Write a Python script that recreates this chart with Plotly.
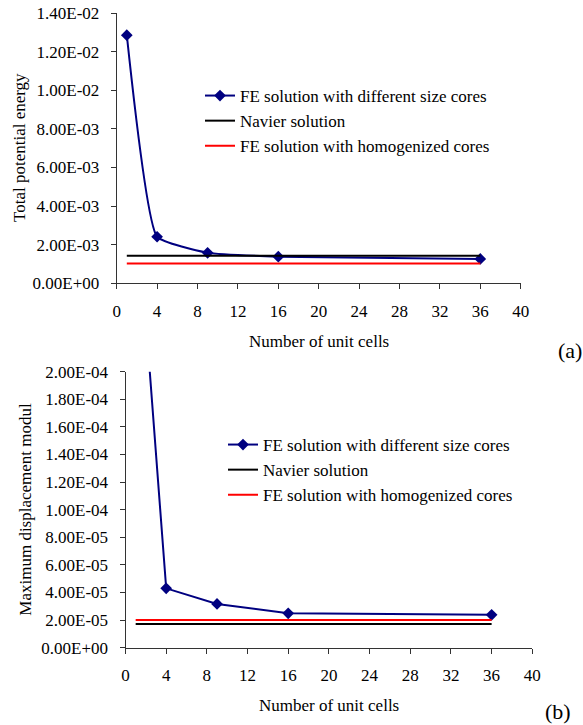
import plotly.graph_objects as go

# ---------------- data ----------------
cells = [1, 4, 9, 16, 36]
line_x = [1, 36]

energy_fe = [1.285e-2, 2.41e-3, 1.58e-3, 1.38e-3, 1.26e-3]
energy_navier = [1.43e-3, 1.43e-3]
energy_homog = [1.02e-3, 1.02e-3]

disp_fe = [3.35e-4, 4.3e-5, 3.17e-5, 2.49e-5, 2.38e-5]
disp_navier = [1.72e-5, 1.72e-5]
disp_homog = [2.0e-5, 2.0e-5]

x_ticks = [0, 4, 8, 12, 16, 20, 24, 28, 32, 36, 40]
energy_tickvals = [0, 0.002, 0.004, 0.006, 0.008, 0.010, 0.012, 0.014]
energy_ticktext = ["0.00E+00", "2.00E-03", "4.00E-03", "6.00E-03", "8.00E-03",
                   "1.00E-02", "1.20E-02", "1.40E-02"]
disp_tickvals = [0, 2e-5, 4e-5, 6e-5, 8e-5, 1e-4, 1.2e-4, 1.4e-4, 1.6e-4, 1.8e-4, 2e-4]
disp_ticktext = ["0.00E+00", "2.00E-05", "4.00E-05", "6.00E-05", "8.00E-05",
                 "1.00E-04", "1.20E-04", "1.40E-04", "1.60E-04", "1.80E-04", "2.00E-04"]

names = ["FE solution with different size cores", "Navier solution",
         "FE solution with homogenized cores"]

# ---------------- style ----------------
FONT = "Liberation Serif"
FS = 17
NAVY = "#000080"
AXC = "#333333"
W, H = 583, 725

def px_x(p):
    return p / W

def px_y(p):
    return 1 - p / H

fig = go.Figure()

# top chart (a)
fig.add_trace(go.Scatter(x=cells, y=energy_fe, mode="lines+markers", name=names[0],
                         line=dict(color=NAVY, width=2, shape="spline", smoothing=0.4),
                         marker=dict(symbol="diamond", size=9, color=NAVY),
                         xaxis="x", yaxis="y", legend="legend"))
fig.add_trace(go.Scatter(x=line_x, y=energy_navier, mode="lines", name=names[1],
                         line=dict(color="black", width=2), xaxis="x", yaxis="y", legend="legend"))
fig.add_trace(go.Scatter(x=line_x, y=energy_homog, mode="lines", name=names[2],
                         line=dict(color="red", width=2), xaxis="x", yaxis="y", legend="legend"))

# bottom chart (b)
fig.add_trace(go.Scatter(x=cells, y=disp_fe, mode="lines+markers", name=names[0],
                         line=dict(color=NAVY, width=2),
                         marker=dict(symbol="diamond", size=9, color=NAVY),
                         xaxis="x2", yaxis="y2", legend="legend2"))
fig.add_trace(go.Scatter(x=line_x, y=disp_navier, mode="lines", name=names[1],
                         line=dict(color="black", width=2), xaxis="x2", yaxis="y2", legend="legend2"))
fig.add_trace(go.Scatter(x=line_x, y=disp_homog, mode="lines", name=names[2],
                         line=dict(color="red", width=2), xaxis="x2", yaxis="y2", legend="legend2"))

axis_common = dict(showgrid=False, zeroline=False, showline=True, linecolor=AXC, linewidth=1,
                   ticks="outside", ticklen=5, tickcolor=AXC, tickwidth=1,
                   tickfont=dict(family=FONT, size=FS, color="black"), automargin=False)

fig.update_layout(
    width=W, height=H,
    margin=dict(l=0, r=0, t=0, b=0),
    paper_bgcolor="white", plot_bgcolor="white",
    font=dict(family=FONT, size=FS, color="black"),
    xaxis=dict(domain=[px_x(116.7), px_x(520.7)], range=[0, 40], tickvals=x_ticks,
               anchor="y", ticklabelstandoff=7, **axis_common),
    yaxis=dict(domain=[px_y(283.3), px_y(13)], range=[0, 0.014], tickvals=energy_tickvals,
               ticktext=energy_ticktext, anchor="x", ticklabelstandoff=8, **axis_common),
    xaxis2=dict(domain=[px_x(125.5), px_x(532.3)], range=[0, 40], tickvals=x_ticks,
                anchor="y2", ticklabelstandoff=7, **axis_common),
    yaxis2=dict(domain=[px_y(647.7), px_y(371.7)], range=[0, 2e-4], tickvals=disp_tickvals,
                ticktext=disp_ticktext, anchor="x2", ticklabelstandoff=8, **axis_common),
    legend=dict(x=px_x(200), y=px_y(78), xanchor="left", yanchor="top",
                bgcolor="rgba(0,0,0,0)", font=dict(family=FONT, size=FS),
                tracegroupgap=0),
    legend2=dict(x=px_x(223), y=px_y(427), xanchor="left", yanchor="top",
                 bgcolor="rgba(0,0,0,0)", font=dict(family=FONT, size=FS),
                 tracegroupgap=0),
    showlegend=True,
)

ann = [
    dict(text="Total potential energy", x=px_x(19), y=px_y(148), textangle=-90),
    dict(text="Number of unit cells", x=px_x(318.7), y=px_y(341)),
    dict(text="Maximum displacement modul", x=px_x(26), y=px_y(509.7), textangle=-90),
    dict(text="Number of unit cells", x=px_x(329), y=px_y(705)),
    dict(text="(a)", x=px_x(570), y=px_y(350), font=dict(family=FONT, size=22, color="black")),
    dict(text="(b)", x=px_x(558), y=px_y(711), font=dict(family=FONT, size=22, color="black")),
]
for a in ann:
    a.setdefault("font", dict(family=FONT, size=FS, color="black"))
    fig.add_annotation(xref="paper", yref="paper", showarrow=False,
                       xanchor="center", yanchor="middle", **a)

fig.write_html("out.html", config={"displayModeBar": False},
               post_script="document.body.style.margin='0';document.body.style.padding='0';")
